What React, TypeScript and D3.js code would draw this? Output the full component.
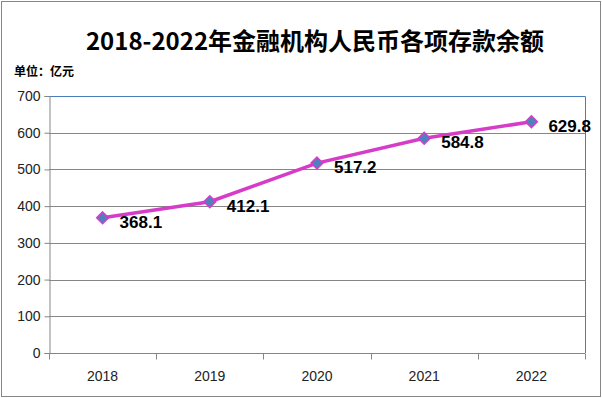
import React, { useEffect, useRef } from 'react'
import * as d3 from 'd3'

const years = ['2018', '2019', '2020', '2021', '2022']
const deposits = [368.1, 412.1, 517.2, 584.8, 629.8]
const yTicks = [0, 100, 200, 300, 400, 500, 600, 700]

const W = 602
const H = 398

export default function App() {
  const ref = useRef<SVGSVGElement>(null)

  useEffect(() => {
    const svg = d3.select(ref.current)
    svg.selectAll('*').remove()

    const padding = { left: 49, top: 96, right: 17, bottom: 45 }
    const chartWidth = W - padding.left - padding.right
    const chartHeight = H - padding.top - padding.bottom

    const xScale = d3.scaleBand().domain(years).range([0, chartWidth])
    const yScale = d3.scaleLinear().domain([0, 700]).range([chartHeight, 0])

    // outer frame
    svg.append('rect')
      .attr('x', 1.5).attr('y', 1.5)
      .attr('width', W - 3).attr('height', H - 3)
      .attr('fill', 'white').attr('stroke', '#868686')

    svg.append('text')
      .attr('x', 315).attr('y', 50)
      .attr('text-anchor', 'middle')
      .attr('font-family', '"Noto Sans CJK SC", sans-serif')
      .attr('font-weight', 'bold')
      .attr('font-size', 24)
      .text('2018-2022年金融机构人民币各项存款余额')

    svg.append('text')
      .attr('x', 14).attr('y', 76)
      .attr('font-family', '"Noto Sans CJK SC", sans-serif')
      .attr('font-weight', 'bold')
      .attr('font-size', 12)
      .text('单位：亿元')

    const inner = svg.append('g')
      .attr('transform', `translate(${padding.left}, ${padding.top})`)

    // gridlines
    inner.append('g')
      .selectAll('line')
      .data(yTicks.filter(t => t > 0 && t < 700))
      .enter().append('line')
      .attr('x1', 0).attr('x2', chartWidth)
      .attr('y1', d => Math.round(yScale(d)) + 0.5)
      .attr('y2', d => Math.round(yScale(d)) + 0.5)
      .attr('stroke', '#868686')

    // plot border top/right
    inner.append('path')
      .attr('d', `M0,0.5H${chartWidth + 0.5}V${chartHeight}`)
      .attr('fill', 'none')
      .attr('stroke', '#4a7ebb')

    const yAxis = d3.axisLeft(yScale).tickValues(yTicks).tickSize(5).tickPadding(4)
    const yG = inner.append('g').attr('transform', 'translate(0.5,0)').call(yAxis)
    yG.select('.domain').attr('stroke', '#868686')
    yG.selectAll('.tick line').attr('stroke', '#868686')
    yG.selectAll('.tick text')
      .attr('font-family', '"Liberation Sans", sans-serif')
      .attr('font-size', 14)
      .attr('fill', '#222')

    const xG = inner.append('g').attr('transform', `translate(0, ${chartHeight + 0.5})`)
    xG.append('line').attr('x1', 0).attr('x2', chartWidth).attr('stroke', '#868686')
    xG.selectAll('line.tk')
      .data(d3.range(years.length + 1))
      .enter().append('line')
      .attr('class', 'tk')
      .attr('x1', i => Math.round(i * xScale.step()) + 0.5)
      .attr('x2', i => Math.round(i * xScale.step()) + 0.5)
      .attr('y1', 0).attr('y2', 6)
      .attr('stroke', '#868686')
    xG.selectAll('text')
      .data(years)
      .enter().append('text')
      .attr('x', d => xScale(d)! + xScale.bandwidth() / 2)
      .attr('y', 27)
      .attr('text-anchor', 'middle')
      .attr('font-family', '"Liberation Sans", sans-serif')
      .attr('font-size', 14)
      .attr('fill', '#222')
      .text(d => d)

    const cx = (i: number) => xScale(years[i])! + xScale.bandwidth() / 2
    const line = d3.line<number>()
      .x((_, i) => cx(i))
      .y(d => yScale(d))

    inner.append('path')
      .datum(deposits)
      .attr('d', line)
      .attr('fill', 'none')
      .attr('stroke', '#d63cc8')
      .attr('stroke-width', 3.5)

    inner.selectAll('path.marker')
      .data(deposits)
      .enter().append('path')
      .attr('class', 'marker')
      .attr('d', d3.symbol().type(d3.symbolDiamond2).size(90))
      .attr('transform', (d, i) => `translate(${cx(i)}, ${yScale(d)})`)
      .attr('fill', '#4f81bd')
      .attr('stroke', '#d63cc8')
      .attr('stroke-width', 1.5)

    inner.selectAll('text.lbl')
      .data(deposits)
      .enter().append('text')
      .attr('class', 'lbl')
      .attr('x', (d, i) => cx(i) + 17)
      .attr('y', d => yScale(d) + 10)
      .attr('font-family', '"Liberation Sans", sans-serif')
      .attr('font-weight', 'bold')
      .attr('font-size', 17)
      .attr('fill', '#000')
      .text(d => d.toFixed(1))
  }, [])

  return <svg ref={ref} width={W} height={H} style={{ position: 'absolute', left: 0, top: 0 }}></svg>
}
